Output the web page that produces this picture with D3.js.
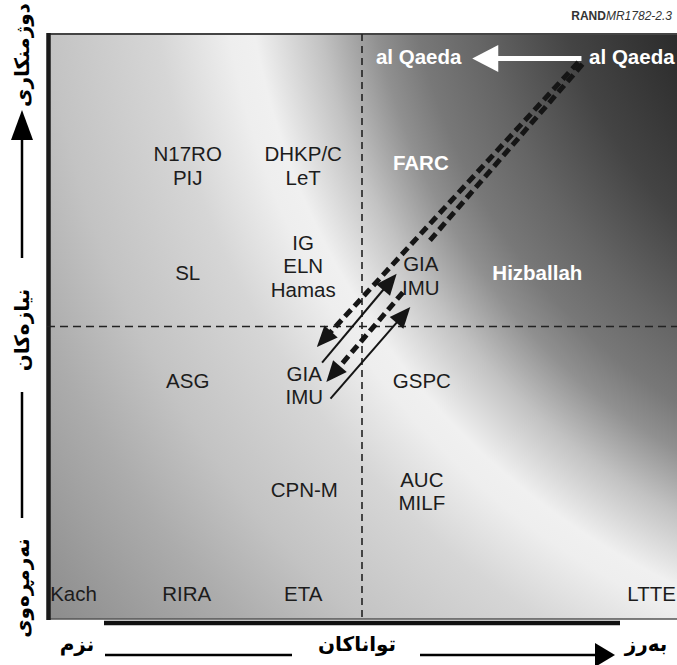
<!DOCTYPE html>
<html><head><meta charset="utf-8">
<script src="https://cdn.jsdelivr.net/npm/d3@7"></script>
<style>body{margin:0;background:#fff}svg{display:block}</style>
</head><body>
<svg id="chart" width="677" height="665"></svg>
<script>
// ---------------- data ----------------
// groups placed by capability (x, 0..6) and intent (y, 0..6)
const groupLines = [
  ["al Qaeda"], ["al Qaeda"],
  ["N17RO","PIJ"], ["DHKP/C","LeT"], ["FARC"],
  ["SL"], ["IG","ELN","Hamas"], ["GIA","IMU"], ["Hizballah"],
  ["ASG"], ["GIA","IMU"], ["GSPC"],
  ["CPN-M"], ["AUC","MILF"],
  ["Kach"], ["RIRA"], ["ETA"], ["LTTE"]
];
const groupCapability = [3.54, 5.57, 1.34, 2.44, 3.56, 1.34, 2.44, 3.56, 4.67, 1.34, 2.45, 3.57, 2.45, 3.57, 0.03, 1.33, 2.44, 5.99];
const groupIntent     = [5.77, 5.77, 4.65, 4.65, 4.68, 3.55, 3.62, 3.52, 3.55, 2.45, 2.40, 2.45, 1.33, 1.31, 0.26, 0.26, 0.26, 0.26];

// movement arrows: start and end in (capability, intent)
const arrowFrom = [[5.06,5.71],[5.10,5.69],[3.39,3.35],[2.62,2.63],[2.70,2.26],[5.09,5.75]];
const arrowTo   = [[2.57,2.79],[3.62,3.85],[2.66,2.43],[3.33,3.54],[3.46,3.20],[4.05,5.75]];
const arrowType = ["trend","trend","trend","shift","shift","rename"];
const arrowHasHead = [true,false,true,true,true,true];

const xAxisLabels = ["نزم","تواناکان","بەرز"];
const yAxisLabels = ["نەرمڕەوی","نیازەکان","دوژمنکاری"];
const sourceNote = ["RAND","MR1782-2.3"];
const quadrantSplit = [3, 3];

// ---------------- drawing ----------------
const svg = d3.select("#chart");
const x = d3.scaleLinear().domain([0,6]).range([47,677]);
const y = d3.scaleLinear().domain([0,6]).range([619,34]);
const pL = x(0), pR = x(6), pT = y(6), pB = y(0);

// background gradient (dark at upper right corner, light diagonal band)
const gc = [998, -98], gr = 1200;
const defs = svg.append("defs");
const grad = defs.append("radialGradient").attr("id","bg")
  .attr("gradientUnits","userSpaceOnUse")
  .attr("cx",gc[0]).attr("cy",gc[1]).attr("fx",gc[0]).attr("fy",gc[1]).attr("r",gr);
[[0,"#1a1a1a"],[340,"#2a2a2a"],[450,"#444444"],[535,"#656565"],[595,"#787878"],[635,"#909090"],
 [690,"#c2c2c2"],[755,"#f0f0f0"],[780,"#eeeeee"],[850,"#d6d6d6"],[960,"#c3c3c3"],
 [1045,"#acacac"],[1190,"#8c8c8c"],[1200,"#8a8a8a"]]
 .forEach(s => grad.append("stop").attr("offset", s[0]/gr).attr("stop-color", s[1]));

svg.append("rect").attr("x",pL).attr("y",pT).attr("width",pR-pL).attr("height",pB-pT)
  .attr("fill","url(#bg)");

// frame
svg.append("line").attr("x1",pL).attr("x2",pR).attr("y1",pT).attr("y2",pT)
  .attr("stroke","#444").attr("stroke-width",2);
svg.append("line").attr("x1",pL).attr("x2",pR).attr("y1",pB).attr("y2",pB)
  .attr("stroke","#555").attr("stroke-width",1.5);
svg.append("line").attr("x1",pL+1.5).attr("x2",pL+1.5).attr("y1",pT-1).attr("y2",pB+1)
  .attr("stroke","#1a1a1a").attr("stroke-width",4.5);
svg.append("line").attr("x1",104).attr("x2",620).attr("y1",pB+4).attr("y2",pB+4)
  .attr("stroke","#111").attr("stroke-width",4.5);

// quadrant dividers
svg.append("line").attr("x1",x(quadrantSplit[0])).attr("x2",x(quadrantSplit[0]))
  .attr("y1",pT).attr("y2",pB).attr("stroke","#222").attr("stroke-width",1.6).attr("stroke-dasharray","7,5");
svg.append("line").attr("x1",pL).attr("x2",pR)
  .attr("y1",y(quadrantSplit[1])).attr("y2",y(quadrantSplit[1])).attr("stroke","#222").attr("stroke-width",1.6).attr("stroke-dasharray","8,5");

// arrows
function headPts(p0, p1, L, Wd){
  const dx=p1[0]-p0[0], dy=p1[1]-p0[1], len=Math.hypot(dx,dy);
  const ux=dx/len, uy=dy/len, bx=p1[0]-ux*L, by=p1[1]-uy*L;
  return {base:[bx,by], pts:[[p1[0],p1[1]],[bx-uy*Wd,by+ux*Wd],[bx+uy*Wd,by-ux*Wd]]};
}
const style = {
  trend:{stroke:"#151515", width:5, dash:"9,5", L:21, W:9, fill:"#151515"},
  shift:{stroke:"#151515", width:2, dash:null, L:21, W:9, fill:"#151515"},
  rename:{stroke:"#ffffff", width:5, dash:null, L:26, W:13.5, fill:"#ffffff"}
};
const ag = svg.append("g");
arrowFrom.forEach((f,i)=>{
  const st = style[arrowType[i]];
  const p0=[x(f[0]),y(f[1])], p1=[x(arrowTo[i][0]),y(arrowTo[i][1])];
  let end = p1;
  if(arrowHasHead[i]){
    const h = headPts(p0,p1,st.L,st.W);
    end = [h.base[0]+(p1[0]-h.base[0])*0.15, h.base[1]+(p1[1]-h.base[1])*0.15];
    ag.append("polygon").attr("points",h.pts.map(p=>p.join(",")).join(" ")).attr("fill",st.fill);
  }
  ag.insert("line",":first-child").attr("x1",p0[0]).attr("y1",p0[1]).attr("x2",end[0]).attr("y2",end[1])
    .attr("stroke",st.stroke).attr("stroke-width",st.width)
    .attr("stroke-dasharray",st.dash);
});

// group labels
const fs = 20.5, lh = 23.5;
const lg = svg.append("g").attr("font-family","'Liberation Sans', Arial, Helvetica, sans-serif").attr("font-size",fs);
groupLines.forEach((lines,i)=>{
  const cx=x(groupCapability[i]), cy=y(groupIntent[i]);
  const dark = Math.hypot(cx-gc[0], cy-gc[1]) < 655;
  const anchor = groupCapability[i] < 0.3 ? "start" : groupCapability[i] > 5.7 ? "end" : "middle";
  const t = lg.append("text").attr("text-anchor",anchor)
    .attr("fill", dark ? "#ffffff" : "#1c1c1c").attr("font-weight", dark ? "bold" : "normal");
  lines.forEach((s,j)=>{
    t.append("tspan").attr("x",cx).attr("y", cy + (j-(lines.length-1)/2)*lh + 0.36*fs).text(s);
  });
});

// source note
const sn = svg.append("text").attr("x",672).attr("y",20).attr("text-anchor","end")
  .attr("font-family","'Liberation Sans', Arial, sans-serif").attr("font-size",12).attr("fill","#333");
sn.append("tspan").attr("font-weight","bold").text(sourceNote[0]);
sn.append("tspan").attr("font-style","italic").text(sourceNote[1]);

// axis titles
const kf = "'DejaVu Sans', 'Noto Sans', sans-serif";
const bx = [77, 357, 646], by = 651;
xAxisLabels.forEach((s,i)=>{
  svg.append("text").attr("x",bx[i]).attr("y",by).attr("text-anchor","middle")
    .attr("font-family",kf).attr("font-weight","bold").attr("font-size",20).attr("fill","#000").text(s);
});
svg.append("line").attr("x1",105).attr("x2",292).attr("y1",655).attr("y2",655).attr("stroke","#000").attr("stroke-width",2.5);
svg.append("line").attr("x1",420).attr("x2",600).attr("y1",655).attr("y2",655).attr("stroke","#000").attr("stroke-width",2.5);
svg.append("polygon").attr("points","615,655 595,643 595,667").attr("fill","#000");

const lx = 22, ly = [588, 330, 55];
yAxisLabels.forEach((s,i)=>{
  svg.append("text").attr("transform",`translate(${lx},${ly[i]}) rotate(-90)`).attr("dy","0.35em")
    .attr("text-anchor","middle").attr("font-family",kf).attr("font-weight","bold").attr("font-size",20)
    .attr("fill","#000").text(s);
});
svg.append("line").attr("x1",lx).attr("x2",lx).attr("y1",138).attr("y2",258).attr("stroke","#000").attr("stroke-width",2.5);
svg.append("line").attr("x1",lx).attr("x2",lx).attr("y1",392).attr("y2",518).attr("stroke","#000").attr("stroke-width",2.5);
svg.append("polygon").attr("points",`${lx},110 ${lx-11},140 ${lx+11},140`).attr("fill","#000");
</script>
</body></html>
